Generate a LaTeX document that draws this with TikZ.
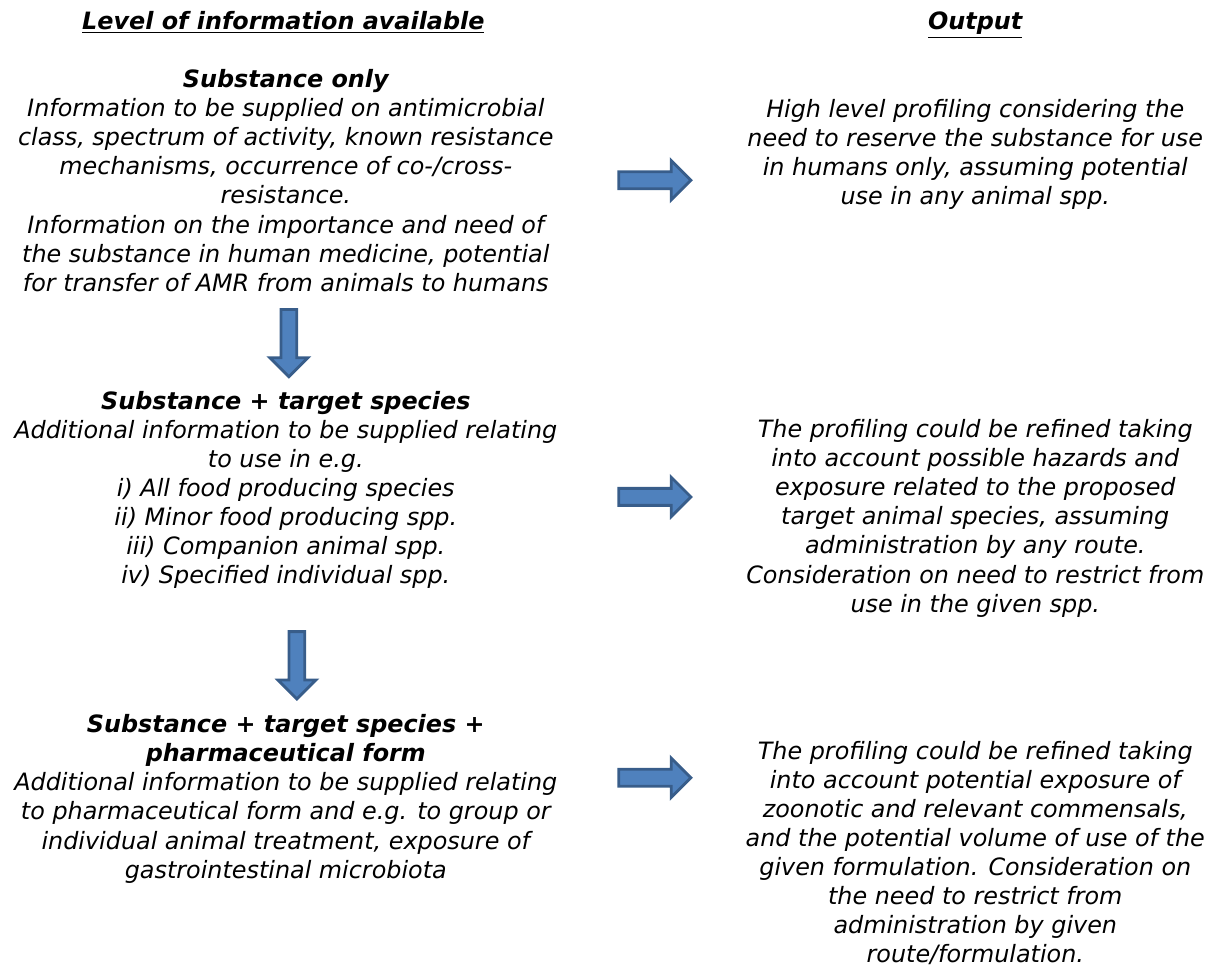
\documentclass[tikz,border=0pt]{standalone}
\usepackage{fontspec}
\setmainfont{DejaVu Sans}
\usetikzlibrary{shapes.arrows}
\definecolor{arrowfill}{RGB}{79,129,189}
\definecolor{arrowline}{RGB}{56,93,138}
\tikzset{
    heading/.style={font=\fontsize{11}{13.4}\selectfont\bfseries\itshape,
                    inner sep=0pt, anchor=base},
    level/.style={font=\fontsize{11}{13.4}\selectfont\itshape,
                  align=center, inner sep=0pt, anchor=north},
    outcome/.style={level},
    fatarrow/.style={single arrow, draw=arrowline, fill=arrowfill,
                     line width=1.3pt, minimum height=1.17cm,
                     inner xsep=0pt, inner ysep=0.115cm,
                     single arrow head extend=0.18cm, anchor=tail},
    downarrow/.style={fatarrow, shape border rotate=270, minimum height=1.09cm,
                      inner xsep=0.105cm, inner ysep=0pt},
}
\newcommand{\stage}[1]{{\bfseries #1}\\}

\begin{document}
\begin{tikzpicture}
    \useasboundingbox (0,0) rectangle (19.70,-15.65);

    % column headings
    \node[heading] (levelhead) at (4.59,-0.47) {\underline{Level of information available}};
    \node[heading] (outhead) at (15.80,-0.47) {\underline{Output}};

    % left column: what is known
    \node[level] (substance) at (4.63,-1.12) {\stage{Substance only}
        Information to be supplied on antimicrobial\\
        class, spectrum of activity, known resistance\\
        mechanisms, occurrence of co-/cross-\\
        resistance.\\
        Information on the importance and need of\\
        the substance in human medicine, potential\\
        for transfer of AMR from animals to humans};
    \node[level] (species) at (4.63,-6.33) {\stage{Substance + target species}
        Additional information to be supplied relating\\
        to use in e.g.\\
        i) All food producing species\\
        ii) Minor food producing spp.\\
        iii) Companion animal spp.\\
        iv) Specified individual spp.};
    \node[level] (form) at (4.63,-11.57) {\stage{Substance + target species +}\stage{pharmaceutical form}
        Additional information to be supplied relating\\
        to pharmaceutical form and e.g. to group or\\
        individual animal treatment, exposure of\\
        gastrointestinal microbiota};

    % right column: resulting profile
    \node[outcome] (profile) at (15.80,-1.60) {High level profiling considering the\\
        need to reserve the substance for use\\
        in humans only, assuming potential\\
        use in any animal spp.};
    \node[outcome] (refined) at (15.80,-6.79) {The profiling could be refined taking\\
        into account possible hazards and\\
        exposure related to the proposed\\
        target animal species, assuming\\
        administration by any route.\\
        Consideration on need to restrict from\\
        use in the given spp.};
    \node[outcome] (refinedform) at (15.80,-12.00) {The profiling could be refined taking\\
        into account potential exposure of\\
        zoonotic and relevant commensals,\\
        and the potential volume of use of the\\
        given formulation. Consideration on\\
        the need to restrict from\\
        administration by given\\
        route/formulation.};

    % block arrows
    \node[fatarrow] (toprofile) at (10.00,-2.92) {};
    \node[fatarrow] (torefined) at (10.00,-8.05) {};
    \node[fatarrow] (torefinedform) at (10.00,-12.60) {};
    \node[downarrow] (tospecies) at (4.68,-4.99) {};
    \node[downarrow] (toform) at (4.81,-10.21) {};
\end{tikzpicture}
\end{document}
